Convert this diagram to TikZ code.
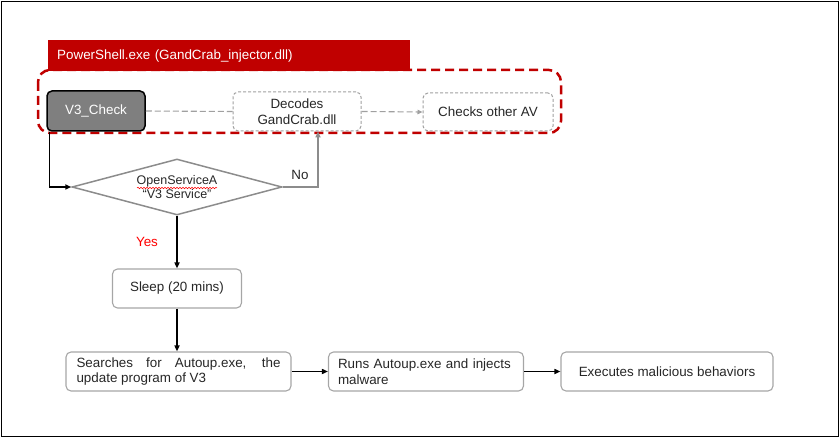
\documentclass[tikz,border=0pt]{standalone}
\usepackage{fontspec}
\setmainfont{Liberation Sans}
\usetikzlibrary{arrows.meta,shapes.geometric,decorations.pathmorphing}
\definecolor{darkred}{HTML}{C00000}
\definecolor{boxgray}{HTML}{A6A6A6}
\definecolor{dashgray}{HTML}{A0A0A0}
\definecolor{linegray}{HTML}{8C8C8C}
\definecolor{fillgray}{HTML}{7F7F7F}
\definecolor{txt}{HTML}{262626}
\begin{document}
\begin{tikzpicture}[x=1pt,y=-1pt,
  font=\fontsize{13.4}{15.5}\selectfont,
  basebox/.style={rectangle,rounded corners=5pt,minimum height=39pt,inner sep=0pt,text=txt},
  solidbox/.style={basebox,draw=boxgray,line width=1.1pt},
  dashbox/.style={basebox,draw=dashgray,line width=1pt,dash pattern=on 3pt off 2pt,align=center},
  darkbox/.style={basebox,draw=black,line width=1.5pt,fill=fillgray,text=white},
  blackarrow/.style={draw=black,line width=1.5pt,-{Triangle[length=6pt,width=5pt]}},
  grayarrow/.style={draw=linegray,line width=1.5pt,-{Triangle[length=6pt,width=5pt]}},
  graydash/.style={draw=dashgray,line width=1.1pt,dash pattern=on 6pt off 3pt},
  lbl/.style={inner sep=0pt,text=txt}
]
\useasboundingbox (0,0) rectangle (840,438);
\draw[black,line width=1.6pt] (1.5,1.5) rectangle (838.5,436.5);

% dashed red container
\draw[darkred,line width=2.5pt,dash pattern=on 9pt off 5pt,rounded corners=12pt]
  (38,70) rectangle (561,133);
% title bar
\node[fill=darkred,minimum width=362pt,minimum height=31pt,inner sep=0pt,anchor=north west,
  text=white,text width=344pt,align=left] (title) at (48,40) {PowerShell.exe (GandCrab\_injector.dll)};

% top row
\node[darkbox,minimum width=98pt,minimum height=40pt] (v3) at (96,111) {V3\_Check};
\node[dashbox,minimum width=128pt] (dec) at (297,111.5) {Decodes\\GandCrab.dll};
\node[dashbox,minimum width=130pt,minimum height=38pt] (chk) at (488,112) {Checks other AV};

\draw[graydash] (v3.east) -- (dec.west);
\draw[graydash,-{Triangle[length=5pt,width=4.5pt]}] (dec.east) -- (chk.west);

% diamond
\node[diamond,draw=linegray,line width=1.5pt,minimum width=210pt,minimum height=56pt,
  aspect=3.75,inner sep=0pt,align=center,text=txt,font=\fontsize{12.5}{14.5}\selectfont]
  (dia) at (177,187) {OpenServiceA\\“V3 Service”};
\draw[red,line width=0.5pt,decorate,decoration={snake,amplitude=0.8pt,segment length=3pt}]
  ([xshift=-40pt,yshift=-1pt]dia.center) -- ([xshift=40pt,yshift=-1pt]dia.center);

\draw[blackarrow] ([xshift=3pt]v3.south west) |- (dia.west);
\draw[grayarrow] (dia.east) -| ([xshift=21pt]dec.south);
\node[lbl] (no) at (300,175) {No};

% lower flow
\node[solidbox,minimum width=129pt] (sleep) at (177,288.5) {Sleep (20 mins)};
\node[lbl,text=red] (yes) at (147,242) {Yes};
\draw[blackarrow] (dia.south) -- (dia.south |- sleep.north);

\node[solidbox,minimum width=225pt,text width=204pt,align=justify] (search) at (178.5,371.5)
  {Searches for Autoup.exe, the\linebreak update program of V3};
\draw[blackarrow] (sleep.south) -- (sleep.south |- search.north);

\node[solidbox,minimum width=195pt,text width=176pt,align=left] (runs) at (426,371.5)
  {Runs Autoup.exe and injects\\malware};
\node[solidbox,minimum width=212pt] (exec) at (667,371.5) {Executes malicious behaviors};

\draw[blackarrow] (search.east) -- (runs.west);
\draw[blackarrow] (runs.east) -- (exec.west);
\end{tikzpicture}
\end{document}
